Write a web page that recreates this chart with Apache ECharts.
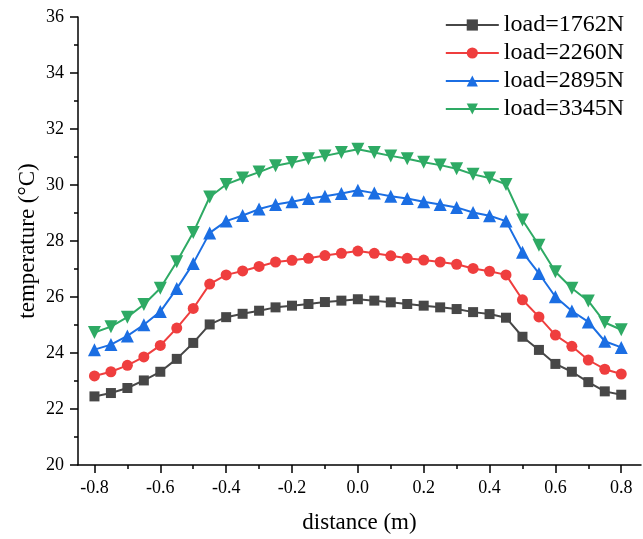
<!DOCTYPE html>
<html>
<head>
<meta charset="utf-8">
<script src="https://cdn.jsdelivr.net/npm/echarts@6/dist/echarts.min.js"></script>
<style>html,body{margin:0;padding:0;background:#fff}#c{width:643px;height:539px}</style>
</head>
<body>
<div id="c"></div>
<script>
var distance = [-0.8,-0.75,-0.7,-0.65,-0.6,-0.55,-0.5,-0.45,-0.4,-0.35,-0.3,-0.25,-0.2,-0.15,-0.1,-0.05,0,0.05,0.1,0.15,0.2,0.25,0.3,0.35,0.4,0.45,0.5,0.55,0.6,0.65,0.7,0.75,0.8];
var load1762 = [22.45,22.57,22.75,23.02,23.33,23.79,24.36,25.02,25.28,25.40,25.51,25.63,25.69,25.75,25.82,25.87,25.92,25.87,25.81,25.75,25.69,25.63,25.57,25.46,25.39,25.26,24.58,24.11,23.61,23.33,22.96,22.63,22.51];
var load2260 = [23.18,23.33,23.56,23.86,24.27,24.89,25.59,26.46,26.79,26.93,27.09,27.25,27.31,27.38,27.48,27.56,27.64,27.56,27.47,27.38,27.32,27.25,27.17,27.02,26.92,26.79,25.90,25.29,24.64,24.24,23.75,23.42,23.25];
var load2895 = [24.12,24.30,24.61,25.01,25.48,26.30,27.20,28.29,28.71,28.91,29.14,29.30,29.40,29.52,29.60,29.70,29.81,29.71,29.60,29.52,29.40,29.30,29.20,29.02,28.90,28.71,27.60,26.84,26.01,25.50,25.11,24.42,24.20];
var load3345 = [24.73,24.94,25.28,25.73,26.31,27.26,28.30,29.57,30.02,30.25,30.46,30.69,30.80,30.94,31.04,31.16,31.28,31.16,31.04,30.94,30.81,30.71,30.58,30.38,30.25,30.02,28.75,27.85,26.90,26.31,25.86,25.09,24.83];
var seriesNames = ['load=1762N','load=2260N','load=2895N','load=3345N'];
var xMajorTicks = [-0.8,-0.6,-0.4,-0.2,0,0.2,0.4,0.6,0.8];
var xMinorTicks = [-0.7,-0.5,-0.3,-0.1,0.1,0.3,0.5,0.7];

var FONT = "'Liberation Serif','Times New Roman',serif";
function pairs(ys){ return distance.map(function(x,i){ return [x, ys[i]]; }); }

var colors = ['#474747','#ef3e3e','#1b6ee3','#2eaa64'];
var symbols = ['rect','circle','triangle','triangle'];
var sizes = [10,11,13,13];
var rots = [0,0,0,180];
var datas = [load1762,load2260,load2895,load3345];

var series = datas.map(function(d,i){
  return {
    name: seriesNames[i], type:'line', xAxisIndex:0, yAxisIndex:0,
    data: pairs(d), symbol: symbols[i], symbolSize: sizes[i], symbolRotate: rots[i],
    showAllSymbol: true,
    lineStyle:{color:colors[i], width:2},
    itemStyle:{color:colors[i]},
    emphasis:{disabled:true},
    animation:false
  };
});

var chart = echarts.init(document.getElementById('c'));
chart.setOption({
  animation:false,
  color: colors,
  grid:{left:78, right:2, top:17, bottom:72},
  legend:{
    orient:'vertical', right:14, top:8,
    itemWidth:53, itemHeight:14, itemGap:4,
    textStyle:{fontFamily:FONT, fontSize:24, color:'#000', lineHeight:24},
    data: seriesNames
  },
  xAxis:[{
    type:'value', min:-0.85, max:0.86, position:'bottom',
    name:'distance (m)', nameLocation:'middle', nameGap:46, nameMoveOverlap:false,
    nameTextStyle:{fontFamily:FONT, fontSize:23, color:'#000'},
    axisLine:{show:true, onZero:false, lineStyle:{color:'#000', width:1.5}},
    axisTick:{show:true, customValues:xMajorTicks, length:8, lineStyle:{color:'#000', width:1.5}},
    axisLabel:{show:true, customValues:xMajorTicks, margin:14, fontFamily:FONT, fontSize:18, color:'#000',
      formatter:function(v){ return v.toFixed(1); }},
    splitLine:{show:false}
  },{
    type:'value', min:-0.85, max:0.86, position:'bottom', offset:0,
    axisLine:{show:false},
    axisTick:{show:true, customValues:xMinorTicks, length:4, lineStyle:{color:'#000', width:1.5}},
    axisLabel:{show:false},
    splitLine:{show:false}
  }],
  yAxis:{
    type:'value', min:20, max:36, interval:2,
    name:'temperature (\u00B0C)', nameLocation:'middle', nameGap:39, nameRotate:90, nameMoveOverlap:false,
    nameTextStyle:{fontFamily:FONT, fontSize:23, color:'#000'},
    axisLine:{show:true, onZero:false, lineStyle:{color:'#000', width:1.5}},
    axisTick:{show:true, length:8, lineStyle:{color:'#000', width:1.5}},
    minorTick:{show:true, splitNumber:2, length:4, lineStyle:{color:'#000', width:1.5}},
    axisLabel:{margin:14, fontFamily:FONT, fontSize:18, color:'#000'},
    splitLine:{show:false}
  },
  series: series
});
</script>
</body>
</html>
